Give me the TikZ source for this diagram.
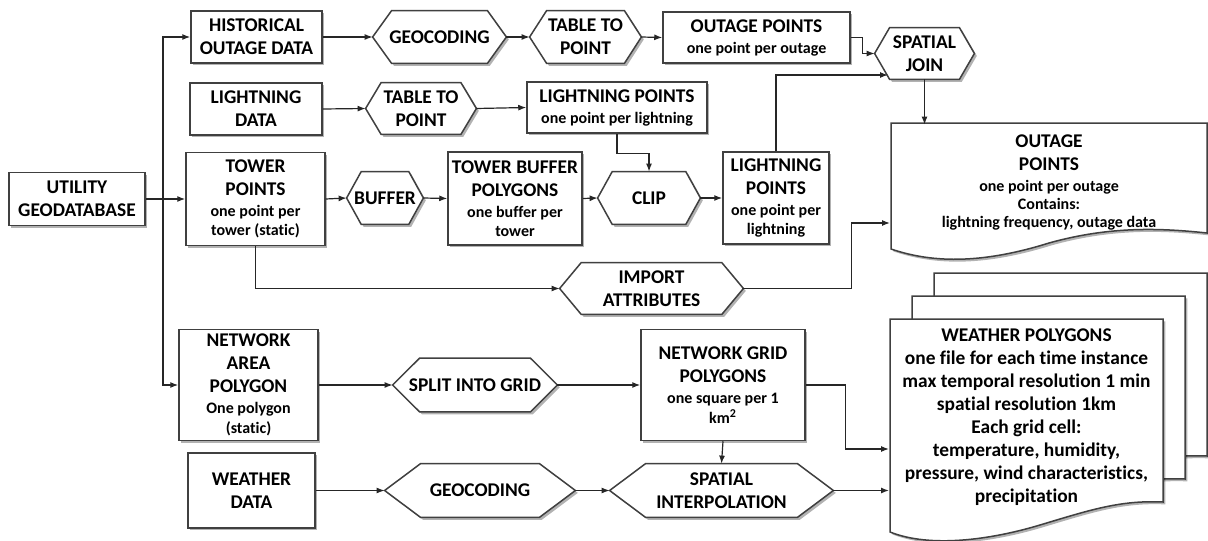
\documentclass[tikz,border=0pt]{standalone}
\usepackage{fontspec}
\setmainfont{Carlito}[Ligatures=NoCommon]
\usetikzlibrary{arrows.meta,shadows,backgrounds}

\newcommand{\titf}{\bfseries\fontsize{9.7}{11.5}\selectfont}
\newcommand{\subf}{\fontsize{8}{10}\selectfont}
% hexagon round a named node, #2 = inset of the corners
\newcommand{\hexa}[2]{%
	\begin{scope}[on background layer]
		\draw[hexline] ([xshift=#2]#1.north west) -- ([xshift=-#2]#1.north east) -- (#1.east)
			-- ([xshift=-#2]#1.south east) -- ([xshift=#2]#1.south west) -- (#1.west) -- cycle;
	\end{scope}}

\tikzset{
	dshadow/.style={drop shadow={shadow xshift=1.2pt,shadow yshift=-1.2pt,fill=black,opacity=0.3}},
	proc/.style={draw=black!75,fill=white,line width=0.75pt,align=center,font=\titf,inner sep=1pt,dshadow},
	op/.style={align=center,font=\titf,inner sep=1pt},
	hexline/.style={draw=black!75,fill=white,line width=0.75pt,dshadow},
	docline/.style={draw=black!75,fill=white,line width=0.75pt,dshadow},
	arr/.style={-{Latex[length=4pt,width=3pt]},line width=0.6pt,black!85},
}

\begin{document}
\begin{tikzpicture}[x=0.5pt,y=-0.5pt]
	\useasboundingbox (0,0) rectangle (1208,540);

	%documents
	\foreach \sx/\sy in {44/-46,22/-23,0/0}{
		\draw[docline,shift={(\sx,\sy)}] (890,319) -- (1163,319) -- (1163,502)
			.. controls (1120,500) and (1090,510) .. (1040,525)
			.. controls (990,540) and (930,548) .. (890,532) -- cycle;
	}
	\node[op,minimum width=136.5pt,minimum height=96pt] (wdoc) at (1026.5,417)
		{WEATHER POLYGONS\\one file for each time instance\\max temporal resolution 1 min\\spatial resolution 1km\\Each grid cell:\\temperature, humidity,\\pressure, wind characteristics,\\precipitation};
	%
	\draw[docline] (891,123) -- (1207,123) -- (1207,233)
		.. controls (1160,228) and (1110,226) .. (1049,243)
		.. controls (985,263) and (935,264) .. (891,249) -- cycle;
	\node[op,minimum width=158pt,minimum height=57pt] (outdoc) at (1049,182)
		{OUTAGE\\POINTS\\[-1pt]{\subf one point per outage}\\[-2.5pt]{\subf Contains:}\\[-2.5pt]{\subf lightning frequency, outage data}};

	%boxes
	\node[proc,minimum width=68pt,minimum height=26.5pt] (util) at (77,199) {UTILITY\\GEODATABASE};
	\node[proc,minimum width=65.5pt,minimum height=26pt] (hist) at (256.5,37) {HISTORICAL\\OUTAGE DATA};
	\node[proc,minimum width=66pt,minimum height=26pt] (ltdata) at (256,109) {LIGHTNING\\DATA};
	\node[proc,minimum width=69.5pt,minimum height=46.5pt] (tower) at (255.5,199)
		{TOWER\\POINTS\\[-1pt]{\subf one point per}\\[-1.75pt]{\subf tower (static)}};
	\node[proc,minimum width=69.5pt,minimum height=55.5pt] (netarea) at (248.5,385)
		{NETWORK\\AREA\\POLYGON\\[-1pt]{\subf One polygon}\\[-1.75pt]{\subf (static)}};
	\node[proc,minimum width=63.5pt,minimum height=37.5pt] (wdata) at (251.5,490.5) {WEATHER\\DATA};
	\node[proc,minimum width=93.5pt,minimum height=25.5pt] (outpts) at (756.5,37.5)
		{OUTAGE POINTS\\[-1pt]{\subf one point per outage}};
	\node[proc,minimum width=90pt,minimum height=25.5pt] (ltpts) at (617,107.5)
		{LIGHTNING POINTS\\[-1pt]{\subf one point per lightning}};
	\node[proc,minimum width=67pt,minimum height=46.5pt] (twbuf) at (515,198.5)
		{TOWER BUFFER\\POLYGONS\\[-1pt]{\subf one buffer per}\\[-1.75pt]{\subf tower}};
	\node[proc,minimum width=53pt,minimum height=46pt] (ltpts2) at (776,198)
		{LIGHTNING\\POINTS\\[-1pt]{\subf one point per}\\[-1.75pt]{\subf lightning}};
	\node[proc,minimum width=82pt,minimum height=55.5pt] (grid) at (723,385)
		{NETWORK GRID\\POLYGONS\\[-1pt]{\subf one square per 1}\\[-1.75pt]{\subf km\textsuperscript{2}}};

	%operations
	\node[op,minimum width=66.5pt,minimum height=26pt] (geo1) at (439.5,37) {GEOCODING};
	\node[op,minimum width=55.5pt,minimum height=26pt] (t2p1) at (585.5,37) {TABLE TO\\POINT};
	\node[op,minimum width=49.5pt,minimum height=25.5pt] (sjoin) at (924.5,53.5) {SPATIAL\\JOIN};
	\node[op,minimum width=55pt,minimum height=25.5pt] (t2p2) at (421,108.5) {TABLE TO\\POINT};
	\node[op,minimum width=38pt,minimum height=26pt] (buffer) at (385,198) {BUFFER};
	\node[op,minimum width=51pt,minimum height=26pt] (clip) at (649,198) {CLIP};
	\node[op,minimum width=91.5pt,minimum height=25.5pt] (import) at (651.5,288.5) {IMPORT\\ATTRIBUTES};
	\node[op,minimum width=82pt,minimum height=26.5pt] (split) at (475,385) {SPLIT INTO GRID};
	\node[op,minimum width=95pt,minimum height=26.5pt] (geo2) at (480,490.5) {GEOCODING};
	\node[op,minimum width=111.5pt,minimum height=26.5pt] (interp) at (721.5,490.5) {SPATIAL\\INTERPOLATION};
	\hexa{geo1}{9.5pt}
	\hexa{t2p1}{8.5pt}
	\hexa{sjoin}{7.5pt}
	\hexa{t2p2}{7.75pt}
	\hexa{buffer}{7.3pt}
	\hexa{clip}{7.3pt}
	\hexa{import}{10.8pt}
	\hexa{split}{13.5pt}
	\hexa{geo2}{18pt}
	\hexa{interp}{18pt}

	%free ends
	\coordinate (trunk) at (163,199);
	\coordinate (sjin) at (888,75);
	\coordinate (outin) at (890,223);
	\coordinate (wpin1) at (889,449);
	\coordinate (wpin2) at (889,490.5);

	%arrows
	\draw[arr] (util.east) -- (trunk) -- (tower.west);
	\draw[arr] (trunk) |- (hist.west);
	\draw[arr] (trunk) |- (netarea.west);
	%
	\draw[arr] (hist.east) -- (geo1.west);
	\draw[arr] (geo1.east) -- (t2p1.west);
	\draw[arr] (t2p1.east) -- (outpts.west);
	\draw[arr] (outpts.east) -- ++(12,0) |- (sjoin.west);
	\draw[arr] (sjoin.south) -- (sjoin.south |- outdoc.north);
	%
	\draw[arr] (ltdata.east) -- (t2p2.west);
	\draw[arr] (t2p2.east) -- (ltpts.west);
	\draw[arr] (ltpts.south) -- ++(0,20) -| (clip.north);
	%
	\draw[arr] (tower.east) -- (buffer.west);
	\draw[arr] (buffer.east) -- (twbuf.west);
	\draw[arr] (twbuf.east) -- (clip.west);
	\draw[arr] (clip.east) -- (ltpts2.west);
	\draw[arr] (ltpts2.north) |- (sjin);
	%
	\draw[arr] (tower.south) |- (import.west);
	\draw[arr] (import.east) -- ++(108,0) |- (outin);
	%
	\draw[arr] (netarea.east) -- (split.west);
	\draw[arr] (split.east) -- (grid.west);
	\draw[arr] (grid.south) -- (interp.north);
	\draw[arr] (grid.east) -- ++(40,0) |- (wpin1);
	%
	\draw[arr] (wdata.east) -- (geo2.west);
	\draw[arr] (geo2.east) -- (interp.west);
	\draw[arr] (interp.east) -- (wpin2);
\end{tikzpicture}
\end{document}
